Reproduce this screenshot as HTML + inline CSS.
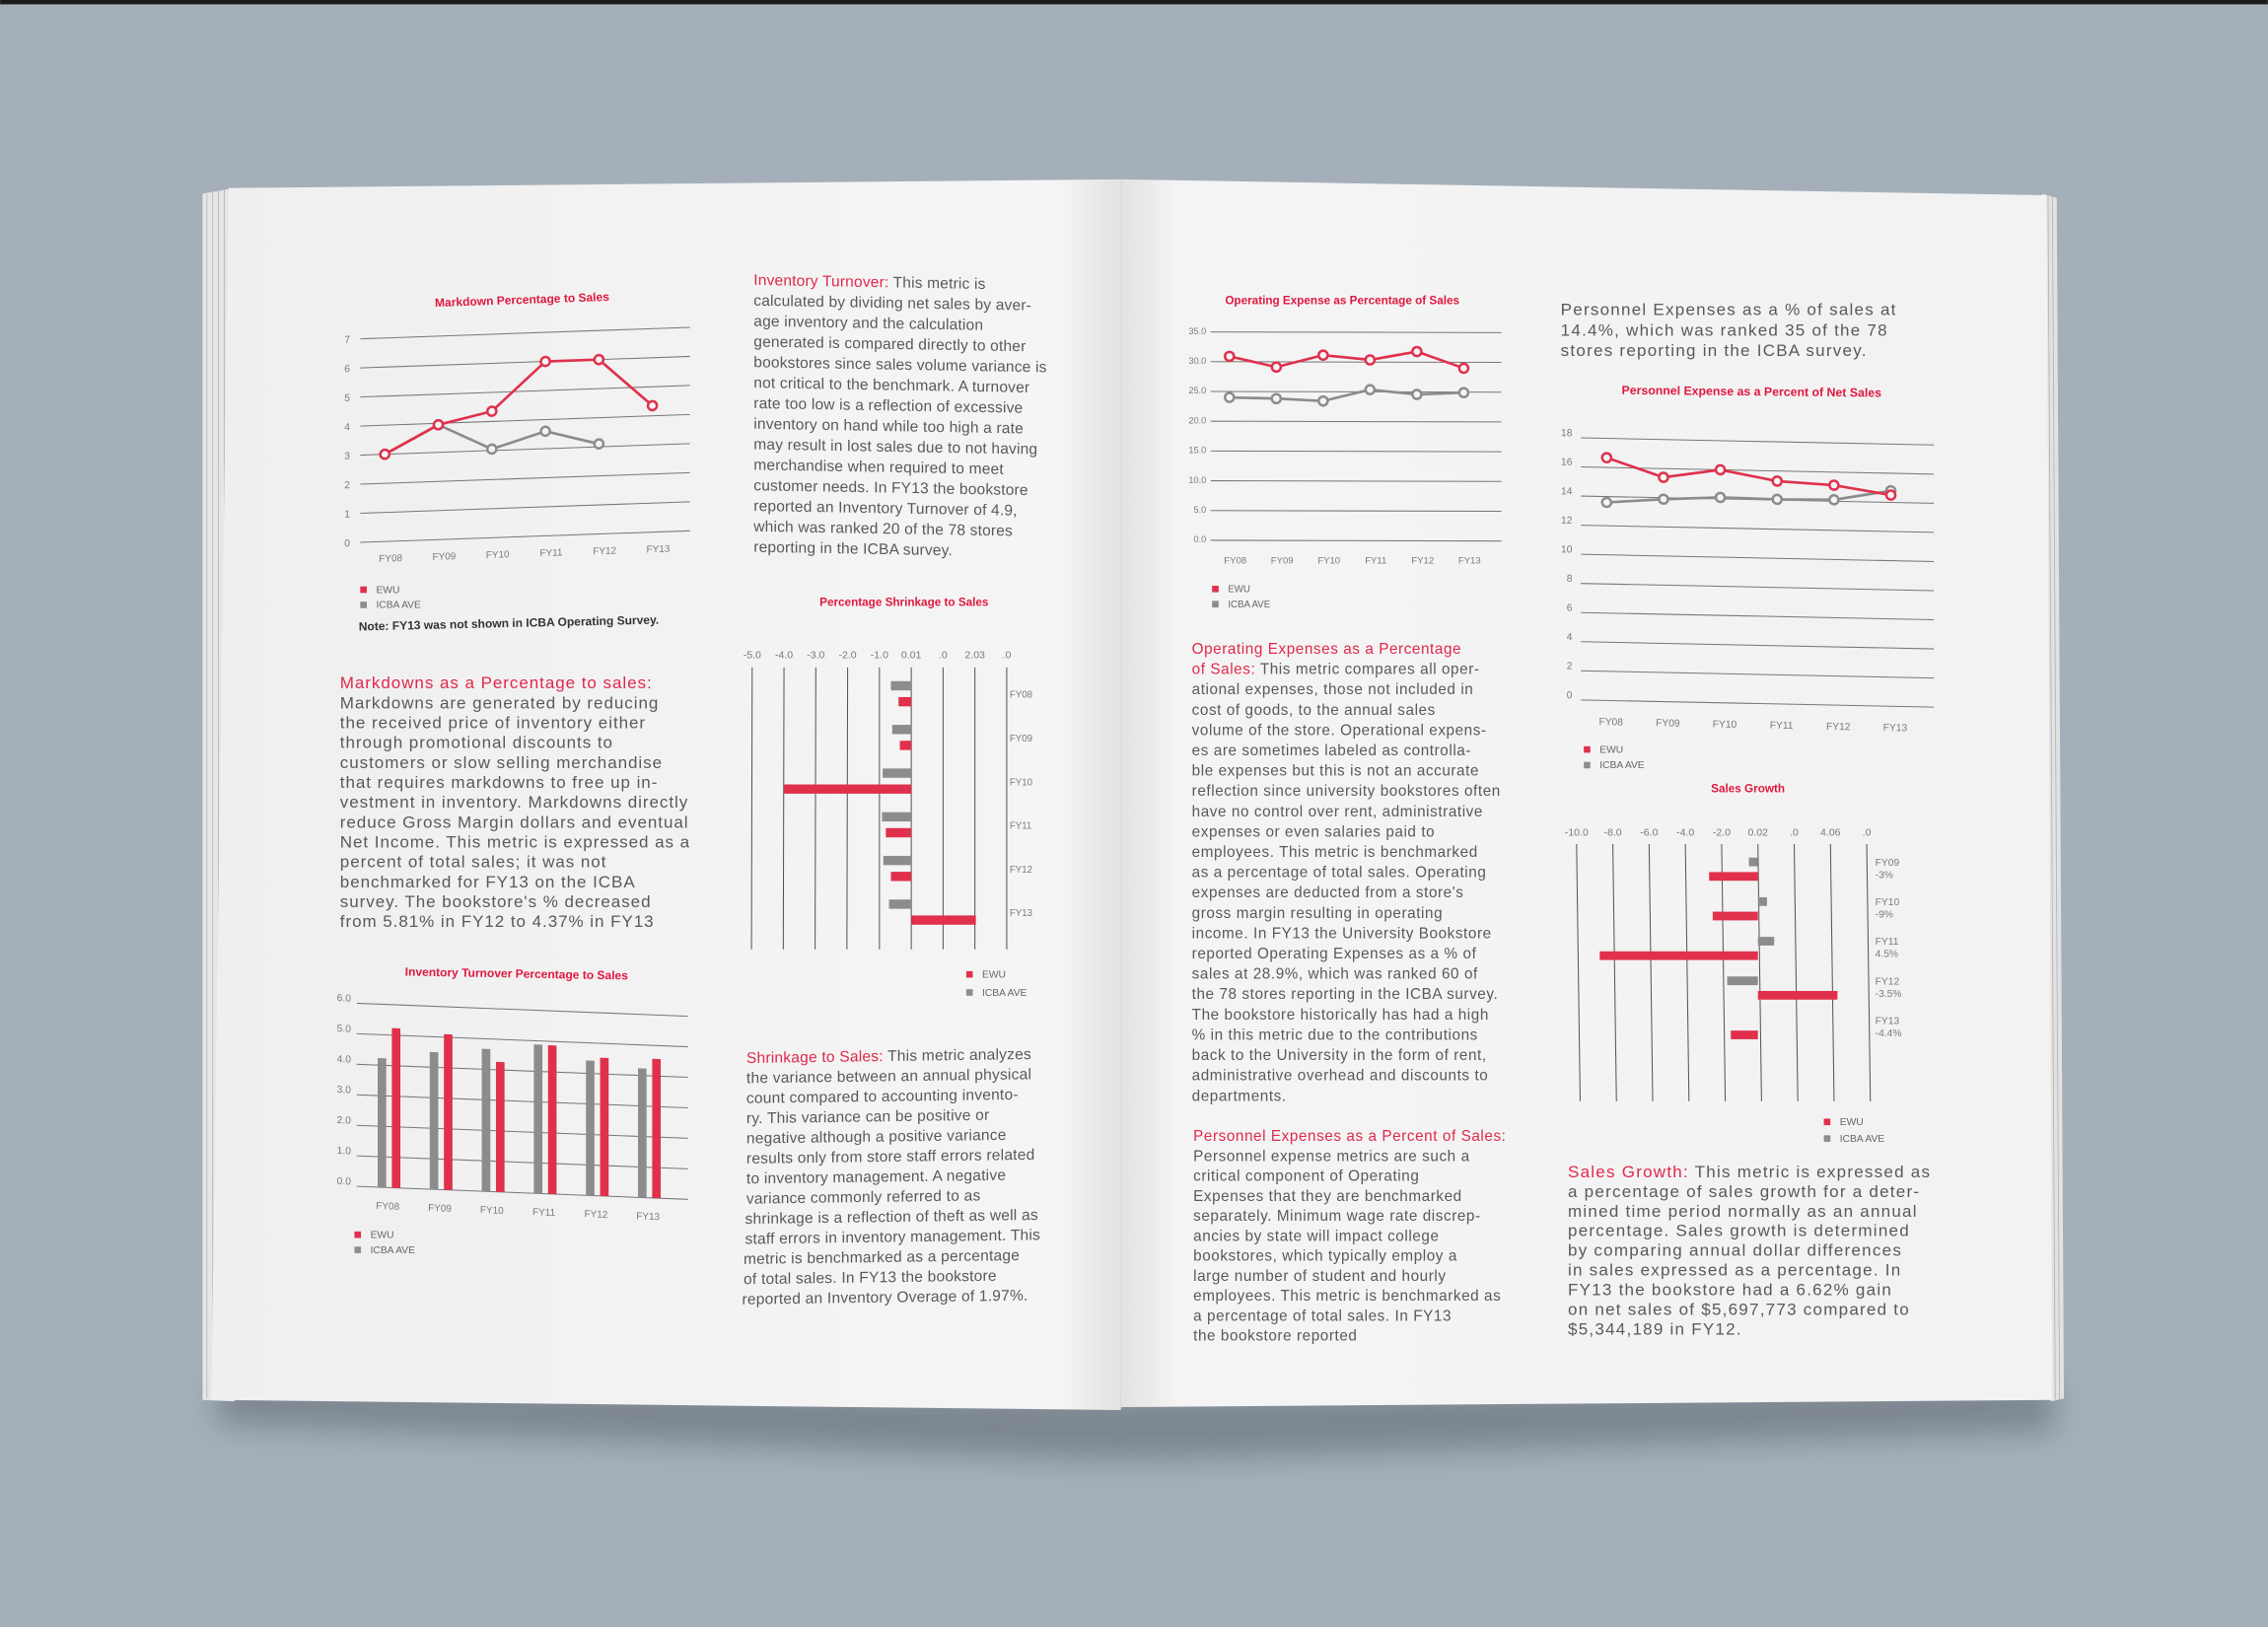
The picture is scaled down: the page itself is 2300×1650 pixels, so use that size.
<!DOCTYPE html>
<html><head><meta charset="utf-8"><title>Bookstore Benchmark Spread</title>
<style>
html,body{margin:0;padding:0;background:#a4afb9;}
svg{display:block;}
text{font-family:"Liberation Sans",sans-serif;}
.body{fill:#595959;}
.red{fill:#e0284a;}
</style></head>
<body>
<svg id="art" width="2300" height="1650" viewBox="0 0 1568 1125" xmlns="http://www.w3.org/2000/svg">
<defs>
<filter id="blur" x="-20%" y="-50%" width="140%" height="200%"><feGaussianBlur stdDeviation="10"/></filter>
<linearGradient id="lspine" x1="0" x2="1" y1="0" y2="0">
<stop offset="0" stop-color="#efefef"/><stop offset="0.93" stop-color="#f5f5f5"/><stop offset="1" stop-color="#e2e2e2"/></linearGradient>
<linearGradient id="rspine" x1="0" x2="1" y1="0" y2="0">
<stop offset="0" stop-color="#e2e2e2"/><stop offset="0.06" stop-color="#f4f4f4"/><stop offset="1" stop-color="#f2f2f2"/></linearGradient>
</defs>
<rect x="0" y="0" width="1568" height="1125" fill="#a4afb9"/>
<rect x="0" y="0" width="1568" height="3" fill="#1b1b1b"/>
<polygon points="150,955 775,965 1420,955 1420,990 775,1010 150,985" fill="#5d6670" opacity="0.55" filter="url(#blur)"/>
<polygon points="140,134 162,130 162,969 140,968" fill="#e6e6e6"/>
<g stroke="#b8b8b8" stroke-width="0.6">
<line x1="143" y1="134" x2="143" y2="967"/><line x1="147" y1="133" x2="147" y2="967"/><line x1="151" y1="132" x2="151" y2="968"/><line x1="155" y1="131" x2="155" y2="968"/>
</g>
<polygon points="158,130 775,124 775,975 146,968" fill="url(#lspine)"/>
<polygon points="1412,134 1422,137 1427,967 1418,969" fill="#e2e2e2"/>
<g stroke="#b5b5b5" stroke-width="0.6">
<line x1="1416" y1="135" x2="1421" y2="968"/><line x1="1419" y1="136" x2="1424" y2="968"/>
</g>
<polygon points="775,124 1415,135 1419,968 775,973" fill="url(#rspine)"/>

<!-- left page text -->
<text class="body" font-size="11.6" letter-spacing="0.65" x="235" y="476">
<tspan class="red" x="235" dy="0">Markdowns as a Percentage to sales:</tspan>
<tspan x="235" dy="13.75">Markdowns are generated by reducing</tspan>
<tspan x="235" dy="13.75">the received price of inventory either</tspan>
<tspan x="235" dy="13.75">through promotional discounts to</tspan>
<tspan x="235" dy="13.75">customers or slow selling merchandise</tspan>
<tspan x="235" dy="13.75">that requires markdowns to free up in-</tspan>
<tspan x="235" dy="13.75">vestment in inventory. Markdowns directly</tspan>
<tspan x="235" dy="13.75">reduce Gross Margin dollars and eventual</tspan>
<tspan x="235" dy="13.75">Net Income.  This metric is expressed as a</tspan>
<tspan x="235" dy="13.75">percent of total sales; it was not</tspan>
<tspan x="235" dy="13.75">benchmarked for FY13 on the ICBA</tspan>
<tspan x="235" dy="13.75">survey.  The bookstore's % decreased</tspan>
<tspan x="235" dy="13.75">from 5.81% in FY12 to 4.37% in FY13</tspan>
</text>
<g transform="translate(521,197) skewY(1)">
<text class="body" font-size="10.6" letter-spacing="0.12" x="0" y="0">
<tspan class="red" x="0" dy="0">Inventory Turnover:</tspan><tspan> This metric is</tspan>
<tspan x="0" dy="14.2">calculated by dividing net sales by aver-</tspan>
<tspan x="0" dy="14.2">age inventory and the calculation</tspan>
<tspan x="0" dy="14.2">generated is compared directly to other</tspan>
<tspan x="0" dy="14.2">bookstores since sales volume variance is</tspan>
<tspan x="0" dy="14.2">not critical to the benchmark.  A turnover</tspan>
<tspan x="0" dy="14.2">rate too low is a reflection of excessive</tspan>
<tspan x="0" dy="14.2">inventory on hand while too high a rate</tspan>
<tspan x="0" dy="14.2">may result in lost sales due to not having</tspan>
<tspan x="0" dy="14.2">merchandise when required to meet</tspan>
<tspan x="0" dy="14.2">customer needs.  In FY13 the bookstore</tspan>
<tspan x="0" dy="14.2">reported an Inventory Turnover of 4.9,</tspan>
<tspan x="0" dy="14.2">which was ranked 20 of the 78 stores</tspan>
<tspan x="0" dy="14.2">reporting in the ICBA survey.</tspan>
</text></g>
<g transform="translate(516,735) skewY(-0.8)">
<text class="body" font-size="10.6" letter-spacing="0.15" x="0" y="0">
<tspan class="red" x="0" dy="0">Shrinkage to Sales:</tspan><tspan> This metric analyzes</tspan>
<tspan x="0" dy="13.9">the variance between an annual physical</tspan>
<tspan x="0" dy="13.9">count compared to accounting invento-</tspan>
<tspan x="0" dy="13.9">ry.  This variance can be positive or</tspan>
<tspan x="0" dy="13.9">negative although a positive variance</tspan>
<tspan x="0" dy="13.9">results only from store staff errors related</tspan>
<tspan x="0" dy="13.9">to inventory management.  A negative</tspan>
<tspan x="0" dy="13.9">variance commonly referred to as</tspan>
<tspan x="-1" dy="13.9">shrinkage is a reflection of theft as well as</tspan>
<tspan x="-1" dy="13.9">staff errors in inventory management.  This</tspan>
<tspan x="-2" dy="13.9">metric is benchmarked as a percentage</tspan>
<tspan x="-2" dy="13.9">of total sales.  In FY13 the bookstore</tspan>
<tspan x="-3" dy="13.9">reported an Inventory Overage of 1.97%.</tspan>
</text></g>

<!-- right page text -->
<text class="body" font-size="10.4" letter-spacing="0.4" x="824" y="452">
<tspan class="red" x="824" dy="0">Operating Expenses as a Percentage</tspan>
<tspan class="red" x="824" dy="14.05">of Sales:</tspan><tspan> This metric compares all oper-</tspan>
<tspan x="824" dy="14.05">ational expenses, those not included in</tspan>
<tspan x="824" dy="14.05">cost of goods, to the annual sales</tspan>
<tspan x="824" dy="14.05">volume of the store.  Operational expens-</tspan>
<tspan x="824" dy="14.05">es are sometimes labeled as controlla-</tspan>
<tspan x="824" dy="14.05">ble expenses but this is not an accurate</tspan>
<tspan x="824" dy="14.05">reflection since university bookstores often</tspan>
<tspan x="824" dy="14.05">have no control over rent, administrative</tspan>
<tspan x="824" dy="14.05">expenses or even salaries paid to</tspan>
<tspan x="824" dy="14.05">employees.  This metric is benchmarked</tspan>
<tspan x="824" dy="14.05">as a percentage of total sales. Operating</tspan>
<tspan x="824" dy="14.05">expenses are deducted from a store's</tspan>
<tspan x="824" dy="14.05">gross margin resulting in operating</tspan>
<tspan x="824" dy="14.05">income.  In FY13 the University Bookstore</tspan>
<tspan x="824" dy="14.05">reported Operating Expenses as a % of</tspan>
<tspan x="824" dy="14.05">sales at 28.9%, which was ranked 60 of</tspan>
<tspan x="824" dy="14.05">the 78 stores reporting in the ICBA survey.</tspan>
<tspan x="824" dy="14.05">The bookstore historically has had a high</tspan>
<tspan x="824" dy="14.05">% in this metric due to the contributions</tspan>
<tspan x="824" dy="14.05">back to the University in the form of rent,</tspan>
<tspan x="824" dy="14.05">administrative overhead and discounts to</tspan>
<tspan x="824" dy="14.05">departments.</tspan>
</text>
<text class="body" font-size="10.4" letter-spacing="0.4" x="825" y="789">
<tspan class="red" x="825" dy="0">Personnel Expenses as a Percent of Sales:</tspan>
<tspan x="825" dy="13.8">Personnel expense metrics are such a</tspan>
<tspan x="825" dy="13.8">critical component of Operating</tspan>
<tspan x="825" dy="13.8">Expenses that they are benchmarked</tspan>
<tspan x="825" dy="13.8">separately.  Minimum wage rate discrep-</tspan>
<tspan x="825" dy="13.8">ancies by state will impact college</tspan>
<tspan x="825" dy="13.8">bookstores, which typically employ a</tspan>
<tspan x="825" dy="13.8">large number of student and hourly</tspan>
<tspan x="825" dy="13.8">employees. This metric is benchmarked as</tspan>
<tspan x="825" dy="13.8">a percentage of total sales. In FY13</tspan>
<tspan x="825" dy="13.8">the bookstore reported</tspan>
</text>
<text class="body" font-size="11.6" letter-spacing="0.85" x="1079" y="218">
<tspan x="1079" dy="0">Personnel Expenses as a % of sales at</tspan>
<tspan x="1079" dy="14">14.4%, which was ranked 35 of the 78</tspan>
<tspan x="1079" dy="14">stores reporting in the ICBA survey.</tspan>
</text>
<text class="body" font-size="11.6" letter-spacing="0.85" x="1084" y="814">
<tspan class="red" x="1084" dy="0">Sales Growth:</tspan><tspan> This metric is expressed as</tspan>
<tspan x="1084" dy="13.6">a percentage of sales growth for a deter-</tspan>
<tspan x="1084" dy="13.6">mined time period normally as an annual</tspan>
<tspan x="1084" dy="13.6">percentage.  Sales growth is determined</tspan>
<tspan x="1084" dy="13.6">by comparing annual dollar differences</tspan>
<tspan x="1084" dy="13.6">in sales expressed as a percentage.  In</tspan>
<tspan x="1084" dy="13.6">FY13 the bookstore had a 6.62% gain</tspan>
<tspan x="1084" dy="13.6">on net sales of $5,697,773 compared to</tspan>
<tspan x="1084" dy="13.6">$5,344,189 in FY12.</tspan>
</text>
<g id="charts"></g>
</svg>
<script>
// ---------- chart data ----------
const years6 = ['FY08','FY09','FY10','FY11','FY12','FY13'];
const markdownEwu = [3.0, 3.95, 4.35, 6.0, 6.0, 4.35];
const markdownIcba = [3.0, 3.95, 3.05, 3.6, 3.1];
const markdownTicks = [0,1,2,3,4,5,6,7];

const shrinkTickLabels = ['-5.0','-4.0','-3.0','-2.0','-1.0','0.01','.0','2.03','.0'];
const shrinkEwu = [-0.4, -0.36, -4.0, -0.8, -0.64, 2.03];
const shrinkIcba = [-0.64, -0.6, -0.9, -0.92, -0.88, -0.7];

const turnoverTicks = ['0.0','1.0','2.0','3.0','4.0','5.0','6.0'];
const turnoverEwu = [5.23, 5.1, 4.26, 4.87, 4.53, 4.56];
const turnoverIcba = [4.23, 4.5, 4.67, 4.88, 4.42, 4.23];

const opexTicks = [0,5,10,15,20,25,30,35];
const opexEwu = [30.9, 29.1, 31.1, 30.3, 31.7, 28.9];
const opexIcba = [24.0, 23.8, 23.4, 25.3, 24.5, 24.8];

const personnelTicks = [0,2,4,6,8,10,12,14,16,18];
const personnelEwu = [16.67, 15.4, 16.0, 15.3, 15.1, 14.5];
const personnelIcba = [13.6, 13.9, 14.1, 14.05, 14.1, 14.8];

const growthTickLabels = ['-10.0','-8.0','-6.0','-4.0','-2.0','0.02','.0','4.06','.0'];
const growthYears = ['FY09','FY10','FY11','FY12','FY13'];
const growthNotes = ['-3%','-9%','4.5%','-3.5%','-4.4%'];
const growthEwu = [-2.7, -2.5, -8.75, 4.4, -1.5];
const growthIcba = [-0.5, 0.5, 0.9, -1.7, 0];

// ---------- helpers ----------
const NS = 'http://www.w3.org/2000/svg';
const RED = '#e0304c', GRAY = '#8c8c8c', AXIS = '#777', LABEL = '#7a7a7a';
const root = document.getElementById('charts');
function mk(tag, attrs, parent) {
  const el = document.createElementNS(NS, tag);
  for (const k in attrs) el.setAttribute(k, attrs[k]);
  (parent || root).appendChild(el);
  return el;
}
function txt(parent, x, y, s, size, fill, anchor, weight) {
  const t = mk('text', {x: x, y: y, 'font-size': size, fill: fill, 'text-anchor': anchor || 'start', 'font-weight': weight || 'normal'}, parent);
  t.textContent = s;
  return t;
}
function legend(parent, x, y, gap, size) {
  const g = mk('g', {}, parent);
  
  
  const r1 = mk('rect', {x: x, y: y - 4.5, width: 4.5, height: 4.5, fill: RED}, g);
  
  
  const t1 = txt(g, x + 11, y, 'EWU', size, '#666');
  
  
  const r2 = mk('rect', {x: x, y: y + gap - 4.5, width: 4.5, height: 4.5, fill: GRAY}, g);
  
  
  const t2 = txt(g, x + 11, y + gap, 'ICBA AVE', size, '#666');
  
  
}
function series(parent, xs, ys, color, name) {
  const pts = ys.map((v, i) => xs(i) + ',' + v).join(' ');
  const pl = mk('polyline', {points: pts, fill: 'none', stroke: color, 'stroke-width': 1.8, 'stroke-linejoin': 'round'}, parent);
  
  
  ys.forEach((v, i) => {
    const c = mk('circle', {cx: xs(i), cy: v, r: 3.1, fill: '#f4f4f4', stroke: color, 'stroke-width': 1.7}, parent);
    
    
  });
}

// ---------- 1. Markdown Percentage to Sales ----------
(function () {
  const g = mk('g', {transform: 'translate(249,375) skewY(-2)'});
  
  
  const y = v => -v * 20.1;
  const x = i => 17 + i * 37;
  markdownTicks.forEach(v => {
    const l = mk('line', {x1: 0, x2: 228, y1: y(v), y2: y(v), stroke: AXIS, 'stroke-width': 0.7}, g);
    
    
    const t = txt(g, -9, y(v) + 2.5, String(v), 7, LABEL, 'middle');
    
    
  });
  years6.forEach((s, i) => {
    const t = txt(g, x(i) + 4, 14, s, 6.8, LABEL, 'middle');
    
    
  });
  series(g, x, markdownIcba.map(y), GRAY, 'markdown-icba');
  series(g, x, markdownEwu.map(y), RED, 'markdown-ewu');
  const title = txt(root, 361, 210, 'Markdown Percentage to Sales', 8.2, '#e0183f', 'middle', 'bold');
  title.setAttribute('transform', 'rotate(-2 361 210)');
  
  
  legend(root, 249, 410, 10.5, 7);
  const note = txt(root, 248, 436, 'Note: FY13 was not shown in ICBA Operating Survey.', 8.2, '#333', 'start', 'bold');
  note.setAttribute('transform', 'rotate(-1.3 248 436)');
  
  
})();

// ---------- 2. Percentage Shrinkage to Sales ----------
(function () {
  const g = mk('g', {});
  
  
  const zero = 630, unit = 22;
  const xv = v => zero + v * unit;
  shrinkTickLabels.forEach((s, i) => {
    const gx = 520 + i * 22;
    const l = mk('line', {x1: gx, x2: gx + (i < 4 ? -0.5 : 0), y1: 461.5, y2: 656.5, stroke: '#555', 'stroke-width': 0.7}, g);
    
    
    const t = txt(g, gx, 455, s, 7.2, LABEL, 'middle');
    
    
  });
  years6.forEach((s, i) => {
    const top = 471 + i * 30.2;
    const gv = shrinkIcba[i], ev = shrinkEwu[i];
    const b1 = mk('rect', {x: Math.min(xv(0), xv(gv)), y: top, width: Math.abs(gv * unit), height: 6.4, fill: GRAY}, g);
    
    
    const b2 = mk('rect', {x: Math.min(xv(0), xv(ev)), y: top + 11, width: Math.abs(ev * unit), height: 6.4, fill: RED}, g);
    
    
    const t = txt(g, 698, top + 11.5, s, 6.6, LABEL, 'start');
    
    
  });
  const title = txt(root, 625, 419, 'Percentage Shrinkage to Sales', 8, '#e0183f', 'middle', 'bold');
  
  
  legend(root, 668, 676, 12.5, 7);
})();

// ---------- 3. Inventory Turnover Percentage to Sales ----------
(function () {
  const g = mk('g', {transform: 'translate(246.6,820.3) skewY(2.25)'});
  
  
  const unit = 21.1;
  const y = v => -v * unit;
  const x = i => 17.4 + i * 36;
  turnoverTicks.forEach((s, i) => {
    const l = mk('line', {x1: 0, x2: 229, y1: y(i), y2: y(i), stroke: AXIS, 'stroke-width': 0.7}, g);
    
    
    const t = txt(g, -4, y(i) - 1, s, 7, LABEL, 'end');
    
    
  });
  years6.forEach((s, i) => {
    const b1 = mk('rect', {x: x(i) - 2.95, y: y(turnoverIcba[i]), width: 5.9, height: turnoverIcba[i] * unit, fill: GRAY}, g);
    
    
    const b2 = mk('rect', {x: x(i) + 9.8 - 2.95, y: y(turnoverEwu[i]), width: 5.9, height: turnoverEwu[i] * unit, fill: RED}, g);
    
    
    const t = txt(g, x(i) + 4, 15, s, 6.8, LABEL, 'middle');
    
    
  });
  const title = txt(root, 357, 676, 'Inventory Turnover Percentage to Sales', 8.2, '#e0183f', 'middle', 'bold');
  title.setAttribute('transform', 'rotate(1 357 676)');
  
  
  legend(root, 245, 856, 10.5, 7);
})();

// ---------- 4. Operating Expense as Percentage of Sales ----------
(function () {
  const g = mk('g', {});
  
  
  const y = v => 373.6 - v * 4.117;
  const x = i => 850 + i * 32.4;
  opexTicks.forEach(v => {
    const l = mk('line', {x1: 837, x2: 1038, y1: y(v), y2: y(v) + 0.5, stroke: AXIS, 'stroke-width': 0.7}, g);
    
    
    const t = txt(g, 834, y(v) + 1.5, v.toFixed(1), 6.3, LABEL, 'end');
    
    
  });
  years6.forEach((s, i) => {
    const t = txt(g, x(i) + 4, 389.5, s, 6.5, LABEL, 'middle');
    
    
  });
  series(g, x, opexIcba.map(y), GRAY, 'opex-icba');
  series(g, x, opexEwu.map(y), RED, 'opex-ewu');
  const title = txt(root, 928, 210.5, 'Operating Expense as Percentage of Sales', 8, '#e0183f', 'middle', 'bold');
  
  
  legend(root, 838, 409.5, 10.5, 6.6);
})();

// ---------- 5. Personnel Expense as a Percent of Net Sales ----------
(function () {
  const g = mk('g', {transform: 'translate(1094,484) skewY(1.17)'});
  
  
  const y = v => -v * 10.07;
  const x = i => 16.8 + i * 39.3;
  personnelTicks.forEach(v => {
    const l = mk('line', {x1: -1, x2: 243, y1: y(v), y2: y(v), stroke: AXIS, 'stroke-width': 0.7}, g);
    
    
    const t = txt(g, -7, y(v) - 1, String(v), 7, LABEL, 'end');
    
    
  });
  years6.forEach((s, i) => {
    const t = txt(g, x(i) + 3, 17, s, 7, LABEL, 'middle');
    
    
  });
  series(g, x, personnelIcba.map(y), GRAY, 'personnel-icba');
  series(g, x, personnelEwu.map(y), RED, 'personnel-ewu');
  const title = txt(root, 1211, 273.5, 'Personnel Expense as a Percent of Net Sales', 8.4, '#e0183f', 'middle', 'bold');
  title.setAttribute('transform', 'rotate(0.6 1211 273)');
  
  
  legend(root, 1095, 520.5, 10.8, 7);
})();

// ---------- 6. Sales Growth ----------
(function () {
  const g = mk('g', {});
  
  
  const zero = 1215.4, unit = 12.5;
  const xv = v => zero + v * unit;
  growthTickLabels.forEach((s, i) => {
    const gx = 1090 + i * 25.08;
    const l = mk('line', {x1: gx, x2: gx + 2.5, y1: 583.6, y2: 761.5, stroke: '#555', 'stroke-width': 0.7}, g);
    
    
    const t = txt(g, gx, 578, s, 7.2, LABEL, 'middle');
    
    
  });
  growthYears.forEach((s, i) => {
    const top = 593 + i * 27.4;
    const gv = growthIcba[i], ev = growthEwu[i];
    const b1 = mk('rect', {x: Math.min(xv(0), xv(gv)), y: top, width: Math.abs(gv * unit), height: 6, fill: GRAY}, g);
    
    
    const b2 = mk('rect', {x: Math.min(xv(0), xv(ev)), y: top + 10, width: Math.abs(ev * unit), height: 6, fill: RED}, g);
    
    
    const t = txt(g, 1296.5, top + 5.5, s, 7, LABEL, 'start');
    
    
    const n = txt(g, 1296.5, top + 14, growthNotes[i], 7, LABEL, 'start');
    
    
  });
  const title = txt(root, 1208.5, 548, 'Sales Growth', 8, '#e0183f', 'middle', 'bold');
  
  
  legend(root, 1261, 778, 11.5, 7);
})();
</script>
</body></html>
